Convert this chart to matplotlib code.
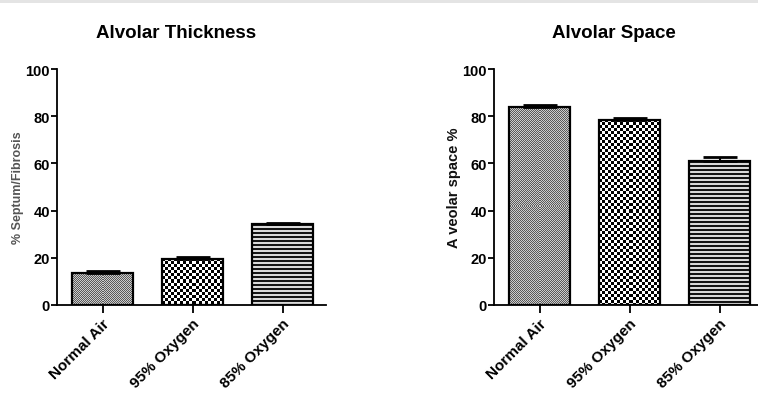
import numpy as np
import matplotlib
matplotlib.use('Agg')
import matplotlib.pyplot as plt
from matplotlib.patches import Rectangle

plt.rcParams['font.family'] = ['Liberation Sans Narrow', 'Liberation Sans', 'DejaVu Sans']
plt.rcParams['font.weight'] = 'bold'

# Data
categories = ['Normal Air', '95% Oxygen', '85% Oxygen']
thickness = [13.5, 19.5, 34.3]
thickness_err = [0.7, 0.8, 0.5]
space = [83.9, 78.4, 61.0]
space_err = [0.8, 0.9, 1.7]


def texture(kind, h, w):
    yy, xx = np.mgrid[0:h, 0:w]
    if kind == 'fine':
        img = np.where((xx + yy) % 2 == 0, 0.35, 0.80)
    elif kind == 'checker':
        img = np.where(((xx // 3) + (yy // 3)) % 2 == 0, 0.0, 1.0)
    else:
        img = np.where((yy % 4) < 2, 0.08, 0.85)
    return img


patterns = ['fine', 'checker', 'stripes']


def draw_panel(ax, values, errs, title, title_x, ylabel, ylabel_color, ylabel_size, xmax):
    ax.set_xlim(-0.506, xmax)
    ax.set_ylim(0, 100)
    x = np.arange(len(categories))
    bars = ax.bar(x, values, width=0.68, facecolor='none', edgecolor='black',
                  linewidth=1.6, zorder=3)
    fig.canvas.draw()
    for b, kind in zip(bars, patterns):
        x0, y0 = b.get_x(), b.get_y()
        x1, y1 = x0 + b.get_width(), y0 + b.get_height()
        p0 = ax.transData.transform((x0, y0))
        p1 = ax.transData.transform((x1, y1))
        w = max(int(round(p1[0] - p0[0])), 1)
        h = max(int(round(p1[1] - p0[1])), 1)
        ax.imshow(texture(kind, h, w), cmap='gray', vmin=0, vmax=1,
                  extent=(x0, x1, y0, y1), interpolation='nearest',
                  aspect='auto', zorder=2)
    ax.set_xlim(-0.506, xmax)
    ax.set_ylim(0, 100)
    ax.errorbar(x, values, yerr=[[0] * len(errs), errs], fmt='none',
                ecolor='black', elinewidth=1.5, capsize=12, capthick=2, zorder=4)

    for s in ['top', 'right']:
        ax.spines[s].set_visible(False)
    for s in ['left', 'bottom']:
        ax.spines[s].set_linewidth(1.3)
    ax.set_yticks([0, 20, 40, 60, 80, 100])
    ax.tick_params(axis='y', length=4, width=1.3, labelsize=10.5, pad=1)
    ax.tick_params(axis='x', length=6, width=1.3, labelsize=11, pad=2)
    ax.set_xticks(x)
    ax.set_xticklabels(categories, rotation=45, ha='right', rotation_mode='anchor')
    fig.text(title_x / 758, 1 - 33 / 414, title, fontsize=13.5, fontweight='bold',
             ha='center', va='center')
    ax.set_ylabel(ylabel, fontsize=ylabel_size, color=ylabel_color,
                  fontweight='bold', labelpad=1)


fig = plt.figure(figsize=(7.58, 4.14), dpi=100)
fig.patches.append(Rectangle((0, 0.99), 1, 0.01, transform=fig.transFigure,
                             facecolor='#e4e4e4', edgecolor='none'))

ax1 = fig.add_axes([57 / 758, 108 / 414, 269 / 758, 236 / 414])
ax2 = fig.add_axes([494 / 758, 108 / 414, 266 / 758, 236 / 414])

draw_panel(ax1, thickness, thickness_err, 'Alvolar Thickness', 176.5,
           '% Septum/Fibrosis', '#555555', 9, 2.48)
draw_panel(ax2, space, space_err, 'Alvolar Space', 613.5,
           'A veolar space %', '#111111', 10.5, 2.45)

fig.savefig('out.png', dpi=100)
